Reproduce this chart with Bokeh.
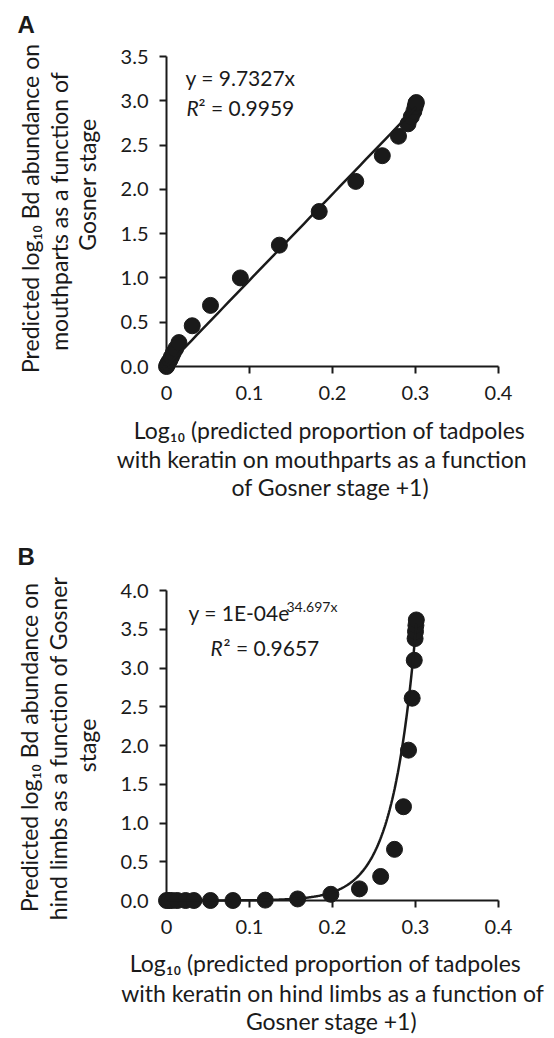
import numpy as np
from bokeh.plotting import figure
from bokeh.models import Label, LinearAxis, FixedTicker, Range1d
from bokeh.layouts import column
from bokeh.embed import file_html
from bokeh.resources import INLINE

# ---------------- data ----------------
# Panel A: mouthparts
a_x = [0.000, 0.001, 0.002, 0.004, 0.006, 0.008, 0.011, 0.015, 0.031, 0.053, 0.089,
       0.136, 0.184, 0.228, 0.260, 0.2795, 0.291, 0.295, 0.298, 0.2995, 0.3005, 0.301]
a_y = [0.00, 0.02, 0.04, 0.07, 0.11, 0.15, 0.20, 0.27, 0.46, 0.69, 1.00,
       1.37, 1.75, 2.09, 2.38, 2.60, 2.74, 2.82, 2.88, 2.93, 2.97, 2.98]
A_SLOPE = 9.7327          # linear trendline y = 9.7327x

# Panel B: hind limbs
b_x = [0.000, 0.003, 0.007, 0.013, 0.023, 0.033, 0.053, 0.080, 0.119, 0.158, 0.198,
       0.2325, 0.258, 0.2747, 0.2855, 0.2916, 0.296, 0.2985, 0.2995, 0.300, 0.3005, 0.301]
b_y = [0.00, 0.00, 0.00, 0.00, 0.00, 0.00, 0.00, 0.00, 0.005, 0.02, 0.08,
       0.15, 0.31, 0.66, 1.21, 1.94, 2.61, 3.10, 3.38, 3.47, 3.55, 3.62]
B_COEF = 1.04e-4          # exponential trendline (label shows rounded 1E-04)
B_RATE = 34.697

x_ticks = [0.0, 0.1, 0.2, 0.3, 0.4]
x_tick_labels = ["0", "0.1", "0.2", "0.3", "0.4"]
a_y_ticks = [0.0, 0.5, 1.0, 1.5, 2.0, 2.5, 3.0, 3.5]
b_y_ticks = [0.0, 0.5, 1.0, 1.5, 2.0, 2.5, 3.0, 3.5, 4.0]

INK = "#1a1a1a"
FONT = "Lato"
FS = 20      # tick labels
TS = 23      # axis titles
ES = 21      # equations

# ---------------- page geometry (page pixels, origin top-left) ----------------
W = 554
X0_PX, X_PER = 166.0, 830.0          # x=0 at 166 px, 830 px per unit


def make_panel(top, height, y0_px, y_per, y_ticks, y_max):
    def X(px):
        return (px - X0_PX) / X_PER

    def Y(py):
        return (y0_px - py) / y_per

    p = figure(width=W, height=height,
               x_range=Range1d(X(0), X(W)),
               y_range=Range1d(Y(top + height), Y(top)),
               x_axis_type=None, y_axis_type=None,
               toolbar_location=None, output_backend="svg",
               min_border=0, outline_line_color=None)
    p.background_fill_color = "white"

    xa = LinearAxis(fixed_location=0, bounds=(0, 0.4),
                    ticker=FixedTicker(ticks=x_ticks),
                    major_label_overrides={t: l for t, l in zip(x_ticks, x_tick_labels)})
    ya = LinearAxis(fixed_location=0, bounds=(0, y_max),
                    ticker=FixedTicker(ticks=y_ticks),
                    major_label_overrides={t: f"{t:.1f}" for t in y_ticks})
    for ax in (xa, ya):
        ax.axis_line_color = INK
        ax.axis_line_width = 2
        ax.major_tick_line_color = INK
        ax.major_tick_line_width = 2
        ax.major_tick_in = 0
        ax.major_tick_out = 7
        ax.minor_tick_line_color = None
        ax.major_label_text_font = FONT
        ax.major_label_text_font_size = f"{FS}px"
        ax.major_label_text_color = INK
    xa.major_label_standoff = 12
    ya.major_label_standoff = 11
    p.add_layout(xa, "below")
    p.add_layout(ya, "left")

    def lab(text, px, py, size=TS, font=FONT, style="normal", align="left", angle=0.0):
        p.add_layout(Label(x=X(px), y=Y(py), text=text, text_font=font,
                           text_font_size=f"{size}px", text_font_style=style,
                           text_align=align, text_baseline="middle", angle=angle,
                           text_color=INK))
    return p, lab


ROT = np.pi / 2

# ---------------- Panel A ----------------
pa, laba = make_panel(0, 528, 366.0, (366.0 - 56.0) / 3.5, a_y_ticks, 3.5)
pa.scatter(a_x, a_y, size=16, color=INK)
xs_a = np.linspace(0, max(a_x), 50)
pa.line(xs_a, A_SLOPE * xs_a, line_width=2.5, color=INK)

laba("A", 17, 24, size=24, font="Liberation Sans", style="bold")
laba("Predicted log₁₀ Bd abundance on", 29, 208, align="center", angle=ROT)
laba("mouthparts  as a function of", 58, 208, align="center", angle=ROT)
laba("Gosner stage", 86, 184, align="center", angle=ROT)
laba("Log₁₀ (predicted proportion  of tadpoles", 332, 429, align="center")
laba("with keratin  on  mouthparts  as a function", 330, 458, align="center")
laba("of Gosner stage +1)", 330, 486, align="center")
laba("y = 9.7327x", 185, 77, size=ES)
laba("R", 186, 107, size=ES, style="italic")
laba("² = 0.9959", 198, 107, size=ES)

# ---------------- Panel B ----------------
pb, labb = make_panel(528, 510, 900.0, (900.0 - 590.0) / 4.0, b_y_ticks, 4.0)
pb.scatter(b_x, b_y, size=16, color=INK)
xs_b = np.linspace(0, max(b_x), 300)
pb.line(xs_b, B_COEF * np.exp(B_RATE * xs_b), line_width=2.5, color=INK)

labb("B", 17, 556, size=24, font="Liberation Sans", style="bold")
labb("Predicted log₁₀ Bd abundance on", 28, 747, align="center", angle=ROT)
labb("hind limbs as a function of Gosner", 57, 748, align="center", angle=ROT)
labb("stage", 86, 745, align="center", angle=ROT)
labb("Log₁₀ (predicted proportion  of tadpoles", 328, 962, align="center")
labb("with keratin on hind limbs as a function of", 332, 992, align="center")
labb("Gosner stage +1)", 331, 1020, align="center")
labb("y = 1E-04e", 188, 612, size=ES)
labb("34.697x", 286, 606, size=14)
labb("R", 210, 647, size=ES, style="italic")
labb("² = 0.9657", 223, 647, size=ES)

layout = column(pa, pb)
open("out.html", "w").write(file_html(layout, INLINE))
